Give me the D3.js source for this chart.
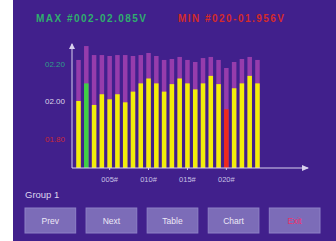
<!DOCTYPE html>
<html>
<head>
    <meta charset="utf-8">
    <title>Cells</title>
    <script src="https://cdn.jsdelivr.net/npm/d3@7"></script>
    <style>
        body { margin:0; background:#fff; }
        text { font-family: "Liberation Sans", Arial, sans-serif; }
    </style>
</head>
<body>
<div id="chart"></div>
<script>
    // cell numbers, measured voltage, and the (purple) upper value
    var cells = d3.range(1, 25);
    var volts = [2.000, 2.094, 1.979, 2.036, 2.009, 2.036, 1.993, 2.050, 2.094, 2.120, 2.094, 2.050,
                 2.090, 2.120, 2.094, 2.062, 2.094, 2.134, 2.090, 1.956, 2.068, 2.094, 2.134, 2.094];
    var upper = [2.219, 2.293, 2.245, 2.245, 2.240, 2.245, 2.245, 2.240, 2.245, 2.256, 2.240, 2.219,
                 2.224, 2.235, 2.219, 2.208, 2.229, 2.235, 2.219, 2.176, 2.208, 2.224, 2.235, 2.219];
    var yTicks = [2.20, 2.00, 1.80];
    var yTickLabels = ["02.20", "02.00", "01.80"];
    var xTicks = [5, 10, 15, 20];
    var xTickLabels = ["005#", "010#", "015#", "020#"];
    var maxCell = 2, minCell = 20;
    var maxText = "MAX #002-02.085V", minText = "MIN #020-01.956V";
    var groupName = "Group 1";
    var buttons = ["Prev", "Next", "Table", "Chart", "Exit"];

    var width = 336, height = 241;

    var svg = d3.select("#chart").append("svg")
        .attr("width", width)
        .attr("height", height);

    // screen
    svg.append("rect").attr("x", 13).attr("y", 0).attr("width", width - 13).attr("height", height)
        .attr("fill", "#41208c");

    svg.append("text").attr("x", 36).attr("y", 22).attr("fill", "#2fae6e")
        .attr("font-size", 10).attr("font-weight", "bold").attr("textLength", 110).text(maxText);
    svg.append("text").attr("x", 178).attr("y", 22).attr("fill", "#d42a2a")
        .attr("font-size", 10).attr("font-weight", "bold").attr("textLength", 106).text(minText);

    var x = d3.scaleBand().domain(cells).range([73, 263]).padding(0.42);
    var y = d3.scaleLinear().domain([1.64, 2.30]).range([168.5, 44.75]);
    var base = 168;

    var g = svg.append("g");

    g.selectAll("rect.up").data(cells).enter().append("rect")
        .attr("class", "up")
        .attr("x", function(d){ return x(d); })
        .attr("width", x.bandwidth())
        .attr("y", function(d,i){ return y(upper[i]); })
        .attr("height", function(d,i){ return base - y(upper[i]); })
        .attr("fill", "#963cac");

    g.selectAll("rect.v").data(cells).enter().append("rect")
        .attr("class", "v")
        .attr("x", function(d){ return x(d); })
        .attr("width", x.bandwidth())
        .attr("y", function(d,i){ return y(volts[i]); })
        .attr("height", function(d,i){ return base - y(volts[i]); })
        .attr("fill", function(d){ return d == maxCell ? "#3fcf45" : d == minCell ? "#ee2a1c" : "#f2ee0a"; });

    // axes with arrows
    var axisCol = "#d8d0ee";
    g.append("line").attr("x1", 72).attr("x2", 72).attr("y1", base).attr("y2", 44)
        .attr("stroke", axisCol).attr("stroke-width", 1);
    g.append("path").attr("d", "M69,49 L72,43 L75,49 Z").attr("fill", axisCol);
    g.append("line").attr("x1", 72).attr("x2", 308).attr("y1", base).attr("y2", base)
        .attr("stroke", axisCol).attr("stroke-width", 1);
    g.append("path").attr("d", "M302,165 L309,168 L302,171 Z").attr("fill", axisCol);

    var yCols = ["#2f9e8a", "#ddd6e8", "#c8283a"];
    g.selectAll("text.yt").data(yTicks).enter().append("text")
        .attr("class", "yt")
        .attr("x", 65).attr("y", function(d){ return y(d) + 3; })
        .attr("text-anchor", "end").attr("font-size", 8)
        .attr("fill", function(d,i){ return yCols[i]; })
        .text(function(d,i){ return yTickLabels[i]; });

    g.selectAll("line.xt").data(xTicks).enter().append("line")
        .attr("class", "xt")
        .attr("x1", function(d){ return x(d) + x.bandwidth()/2; })
        .attr("x2", function(d){ return x(d) + x.bandwidth()/2; })
        .attr("y1", base).attr("y2", base + 2)
        .attr("stroke", axisCol);

    g.selectAll("text.xt").data(xTicks).enter().append("text")
        .attr("class", "xt")
        .attr("x", function(d){ return x(d) + x.bandwidth()/2; })
        .attr("y", 182)
        .attr("text-anchor", "middle").attr("font-size", 7.5)
        .attr("fill", "#c8c0e4")
        .text(function(d,i){ return xTickLabels[i]; });

    svg.append("text").attr("x", 25).attr("y", 198).attr("font-size", 9.5)
        .attr("fill", "#ddd6ee").text(groupName);

    var bx = d3.scaleBand().domain(buttons).range([25, 320]).paddingInner(0.17);
    var btn = svg.selectAll("g.btn").data(buttons).enter().append("g")
        .attr("transform", function(d){ return "translate(" + bx(d) + ",208)"; });
    btn.append("rect").attr("width", bx.bandwidth()).attr("height", 25)
        .attr("fill", "#7c6cb8").attr("stroke", "#8e80c6");
    btn.append("text").attr("x", bx.bandwidth()/2).attr("y", 16)
        .attr("text-anchor", "middle").attr("font-size", 8.5)
        .attr("fill", function(d){ return d == "Exit" ? "#f0306a" : "#ece8f6"; })
        .text(function(d){ return d; });
</script>
</body>
</html>
